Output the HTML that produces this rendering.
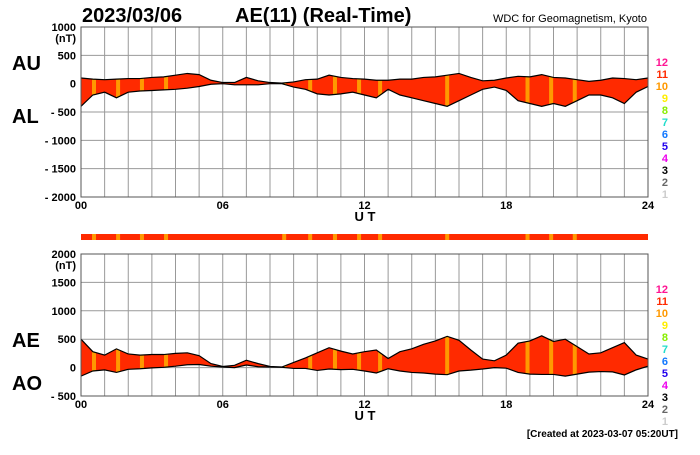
<!DOCTYPE html>
<html><head><meta charset="utf-8"><style>
body{margin:0;background:#fff;}
svg text{font-family:"Liberation Sans",sans-serif;font-weight:bold;}
</style></head><body>
<svg id="c" width="700" height="450" viewBox="0 0 700 450">
<text x="82" y="22" font-size="20">2023/03/06</text>
<text x="235" y="22" font-size="20">AE(11) (Real-Time)</text>
<text x="647" y="22" font-size="11" font-weight="normal" text-anchor="end" style="font-weight:normal">WDC for Geomagnetism, Kyoto</text>
<text x="12" y="70" font-size="20">AU</text>
<text x="12" y="123" font-size="20">AL</text>
<text x="12" y="347" font-size="20">AE</text>
<text x="12" y="390" font-size="20">AO</text>
<text x="678" y="437" font-size="10" text-anchor="end">[Created at 2023-03-07 05:20UT]</text>
<g id="g"></g>
</svg>
<script>
const hours=[0,0.5,1,1.5,2,2.5,3,3.5,4,4.5,5,5.5,6,6.5,7,7.5,8,8.5,9,9.5,10,10.5,11,11.5,12,12.5,13,13.5,14,14.5,15,15.5,16,16.5,17,17.5,18,18.5,19,19.5,20,20.5,21,21.5,22,22.5,23,23.5,24];
const auValues=[100,80,70,80,90,90,110,120,150,180,160,60,20,20,110,50,20,10,30,70,80,150,110,90,80,60,60,80,80,110,120,150,180,110,50,60,100,130,120,160,110,100,70,40,60,100,90,70,100];
const alValues=[-400,-200,-150,-250,-150,-130,-120,-110,-100,-80,-50,-10,0,-20,-20,-20,0,0,-60,-100,-180,-200,-180,-150,-200,-250,-100,-200,-250,-300,-350,-400,-300,-200,-100,-60,-120,-300,-350,-400,-350,-400,-300,-200,-200,-250,-350,-150,-50];
const orangeBands=[0.55,1.57,2.58,3.6,8.6,9.7,10.75,11.77,12.66,15.5,18.9,19.9,20.9];
const topTicks=[1000,500,0,-500,-1000,-1500,-2000];
const botTicks=[2000,1500,1000,500,0,-500];
const xTicks=["00","06","12","18","24"];
const legendLabels=["12","11","10","9","8","7","6","5","4","3","2","1"];
const legendColors=["#ff1493","#ff2a00","#ff9900","#ffee00","#88ee00","#22ddcc","#1177ff","#2200ee","#ee00ee","#000","#666","#ccc"];
const NS="http://www.w3.org/2000/svg",g=document.getElementById('g');
const X0=81,X1=648;
const x=h=>X0+(X1-X0)*h/24;
function el(t,a,p){const e=document.createElementNS(NS,t);for(const k in a)e.setAttribute(k,a[k]);(p||g).appendChild(e);return e;}
function panel(name,top,bot,vmax,vmin,ticks,upper,lower){
  const y=v=>top+(vmax-v)*(bot-top)/(vmax-vmin);
  const pg=el('g',{});
  
  
  for(let h=0;h<=24;h++){const l=el('line',{x1:x(h),x2:x(h),y1:top,y2:bot,stroke:'#999','stroke-width':1},pg);
    }
  ticks.forEach((v,i)=>{const l=el('line',{x1:X0,x2:X1,y1:y(v),y2:y(v),stroke:'#999','stroke-width':1},pg);
    
    const t=el('text',{x:76,y:y(v)+4,'font-size':11,'text-anchor':'end'},pg);t.textContent=v<0?'- '+(-v):String(v);
    
    if(i===0){const u=el('text',{x:76,y:y(v)+15,'font-size':11,'text-anchor':'end'},pg);u.textContent='(nT)';
      }});
  let d='M'+hours.map((h,i)=>x(h)+','+y(upper[i])).join('L');
  for(let i=hours.length-1;i>=0;i--)d+='L'+x(hours[i])+','+y(lower[i]);
  const a=el('path',{d:d+'Z',fill:'#ff2a00',stroke:'none'},pg);
  
  const cp=el('clipPath',{id:'cp'+name},pg);el('path',{d:d+'Z'},cp);
  orangeBands.forEach(h=>{const r=el('rect',{x:x(h)-2,y:top,width:4,height:bot-top,fill:'#ff9900','clip-path':'url(#cp'+name+')'},pg);
    });
  [upper,lower].forEach((s,k)=>{const p=el('path',{d:'M'+hours.map((h,i)=>x(h)+','+y(s[i])).join('L'),fill:'none',stroke:'#000','stroke-width':1.2},pg);
    });
  const b=el('rect',{x:X0,y:top,width:X1-X0,height:bot-top,fill:'none',stroke:'#555'},pg);
  
  xTicks.forEach((t,i)=>{const e=el('text',{x:x(i*6),y:bot+12,'font-size':11,'text-anchor':'middle'},pg);e.textContent=t;
    });
  const ut=el('text',{x:365,y:bot+24,'font-size':13,'text-anchor':'middle'},pg);ut.textContent='U T';
  
  legendLabels.forEach((t,i)=>{const e=el('text',{x:668,y:top+39+i*12,'font-size':11,'text-anchor':'end',fill:legendColors[i]},pg);e.textContent=t;
    });
}
panel('au-al',27,197,1000,-2000,topTicks,auValues,alValues);
const ae=auValues.map((u,i)=>u-alValues[i]);
const ao=auValues.map((u,i)=>(u+alValues[i])/2);
panel('ae-ao',254,396,2000,-500,botTicks,ae,ao);
const strip=el('rect',{x:X0,y:234,width:X1-X0,height:6,fill:'#ff2a00'});


orangeBands.forEach(h=>{const r=el('rect',{x:x(h)-2,y:234,width:4,height:6,fill:'#ff9900'});
  
  });
</script>
</body></html>
